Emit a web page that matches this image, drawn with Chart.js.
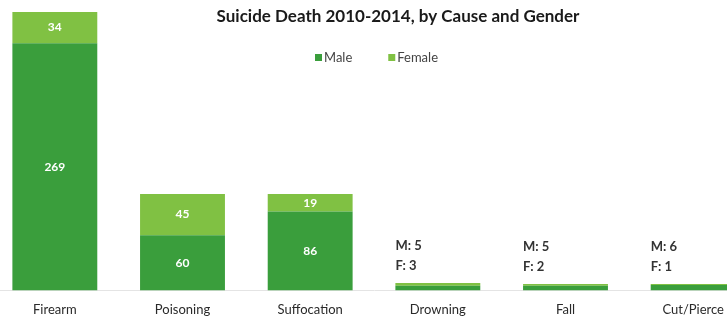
<!DOCTYPE html>
<html>
<head>
<meta charset="utf-8">
<script src="https://cdn.jsdelivr.net/npm/chart.js@4"></script>
<style>
  html, body { margin: 0; padding: 0; background: #fff; overflow: hidden; }
  #wrap { position: absolute; left: -9px; top: 0; width: 766px; height: 322px; }
</style>
</head>
<body>
<div id="wrap"><canvas id="causeChart"></canvas></div>
<script>
// Données du graphique
const causes = ['Firearm', 'Poisoning', 'Suffocation', 'Drowning', 'Fall', 'Cut/Pierce'];
const maleDeaths = [269, 60, 86, 5, 5, 6];
const femaleDeaths = [34, 45, 19, 3, 2, 1];
const chartTitle = 'Suicide Death 2010-2014, by Cause and Gender';

const maleColor = '#3a9e3c';
const femaleColor = '#80c143';
const fontFamily = 'Lato, "Open Sans", sans-serif';

// Titre + légende dessinés par-dessus la zone du graphique
const headerPlugin = {
    id: 'header',
    afterDraw(chart) {
        const ctx = chart.ctx;
        ctx.save();
        ctx.fillStyle = '#1a1a1a';
        ctx.font = 'bold 17px ' + fontFamily;
        ctx.textAlign = 'center';
        ctx.textBaseline = 'middle';
        ctx.fillText(chartTitle, 407, 17);

        ctx.font = '13px ' + fontFamily;
        ctx.textAlign = 'left';
        let x = 324;
        chart.data.datasets.forEach(ds => {
            ctx.fillStyle = ds.backgroundColor;
            ctx.fillRect(x, 54, 7, 7);
            ctx.fillStyle = '#444';
            ctx.fillText(ds.label, x + 9, 58);
            x += 9 + ctx.measureText(ds.label).width + 36;
        });
        ctx.restore();
    }
};

// Étiquettes de valeurs
const valueLabelPlugin = {
    id: 'valueLabels',
    afterDatasetsDraw(chart) {
        const ctx = chart.ctx;
        const maleMeta = chart.getDatasetMeta(0);
        const femaleMeta = chart.getDatasetMeta(1);
        ctx.save();
        ctx.textBaseline = 'middle';
        causes.forEach((c, i) => {
            const m = maleMeta.data[i];
            const f = femaleMeta.data[i];
            if (m.base - m.y > 16) {
                ctx.fillStyle = '#fff';
                ctx.font = 'bold 12px ' + fontFamily;
                ctx.textAlign = 'center';
                ctx.fillText(maleDeaths[i], m.x, (m.y + m.base) / 2);
                ctx.fillText(femaleDeaths[i], f.x, (f.y + f.base) / 2);
            } else {
                ctx.fillStyle = '#333';
                ctx.font = 'bold 13px ' + fontFamily;
                ctx.textAlign = 'left';
                const left = m.x - m.width / 2;
                ctx.fillText('M: ' + maleDeaths[i], left, f.y - 37);
                ctx.fillText('F: ' + femaleDeaths[i], left, f.y - 17);
            }
        });
        ctx.restore();
    }
};

const ctx = document.getElementById('causeChart').getContext('2d');
new Chart(ctx, {
    type: 'bar',
    data: {
        labels: causes,
        datasets: [{
            label: 'Male',
            data: maleDeaths,
            backgroundColor: maleColor
        }, {
            label: 'Female',
            data: femaleDeaths,
            backgroundColor: femaleColor
        }]
    },
    options: {
        responsive: true,
        maintainAspectRatio: false,
        animation: false,
        barPercentage: 0.665,
        categoryPercentage: 1,
        layout: {
            padding: { top: 12, bottom: 0, left: 0, right: 0 }
        },
        plugins: {
            legend: { display: false },
            title: { display: false },
            tooltip: { enabled: false }
        },
        scales: {
            x: {
                stacked: true,
                grid: { display: false },
                border: { display: true, color: '#e4e4e4' },
                ticks: {
                    color: '#2a2a2a',
                    font: { family: fontFamily, size: 13 },
                    padding: 4
                }
            },
            y: {
                stacked: true,
                display: false,
                min: 0,
                max: 303
            }
        }
    },
    plugins: [headerPlugin, valueLabelPlugin]
});
</script>
</body>
</html>
